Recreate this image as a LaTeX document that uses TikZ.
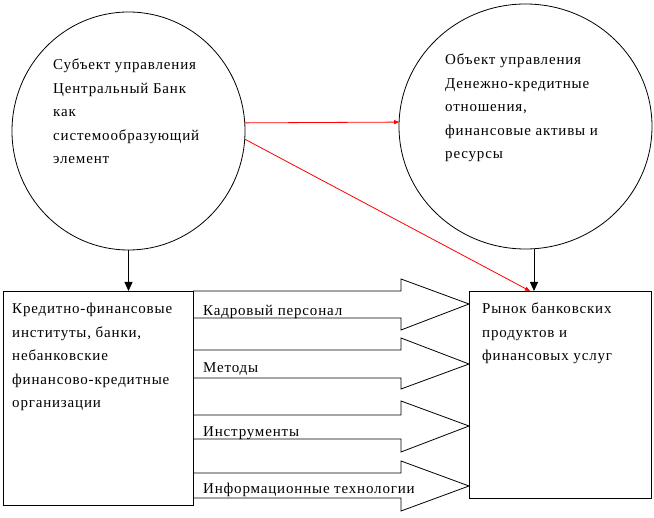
\documentclass[tikz,border=0pt]{standalone}
\usepackage{fontspec}
\setmainfont{Liberation Serif}[LetterSpace=5.5]
\newfontfamily\tnr{Liberation Serif}[LetterSpace=5.5]
\usetikzlibrary{shapes.geometric,arrows.meta,calc}
\begin{document}
\begin{tikzpicture}[x=1pt,y=-1pt,
  circ/.style={draw, ellipse, inner sep=0pt, outer sep=0pt, line width=0.8pt},
  boxx/.style={draw, rectangle, inner sep=0pt, outer sep=0pt, line width=0.8pt},
  txt/.style={anchor=north west, align=left, inner sep=0pt, font=\tnr\fontsize{15}{23.5}\selectfont},
  lbl/.style={anchor=base west, inner sep=0pt, font=\tnr\fontsize{15}{18}\selectfont},
  blk/.style={draw, line width=0.8pt},
  blackarr/.style={draw, line width=0.8pt, -{Triangle[length=9pt,width=8pt]}},
  redarr/.style={draw=red, line width=0.8pt, -{Triangle[length=5pt,width=4pt]}}
]
\useasboundingbox (0,0) rectangle (654,518);
\node[circ, minimum width=233pt, minimum height=238pt] (L) at (128.5,131) {};
\node[circ, minimum width=253pt, minimum height=245pt] (R) at (525.5,126.5) {};
\node[boxx, minimum width=190pt, minimum height=214pt] (A) at (98,398) {};
\node[boxx, minimum width=182pt, minimum height=207pt] (B) at (560,394.5) {};

\node[txt] (Lt) at (53,59) {Субъект управления\\Центральный Банк\\как\\системообразующий\\элемент};
\node[txt] (Rt) at (445,54) {Объект управления\\Денежно-кредитные\\отношения,\\финансовые активы и\\ресурсы};
\node[txt] (At) at (12,303) {Кредитно-финансовые\\институты, банки,\\небанковские\\финансово-кредитные\\организации};
\node[txt] (Bt) at (482,303) {Рынок банковских\\продуктов и\\финансовых услуг};

% block arrows
\draw[blk] (193,291) -- (401,291) -- (401,279) -- (469,304) -- (401,330) -- (401,318) -- (193,318);
\draw[blk] (193,350) -- (401,350) -- (401,338) -- (469,364) -- (401,389) -- (401,378) -- (193,378);
\draw[blk] (193,415) -- (401,415) -- (401,401) -- (469,426) -- (401,452) -- (401,439) -- (193,439);
\draw[blk] (193,473) -- (401,473) -- (401,461) -- (469,486) -- (401,511) -- (401,498) -- (193,498);

\node[lbl] (l1) at (203,316) {Кадровый персонал};
\node[lbl] (l2) at (203,373) {Методы};
\node[lbl] (l3) at (203,437) {Инструменты};
\node[lbl] (l4) at (203,494) {Информационные технологии};

% connectors
\draw[blackarr] (L.south) -- (L.south |- A.north);
\coordinate (Rs) at ($(R.south)+(8.5,0)$);
\draw[blackarr] (Rs) -- (Rs |- B.north);
\draw[redarr] (L.4) -- (R.178);
\coordinate (Bd) at ($(B.north west)+(61,0)$);
\draw[redarr] (L.-4) -- (Bd);
\end{tikzpicture}
\end{document}
